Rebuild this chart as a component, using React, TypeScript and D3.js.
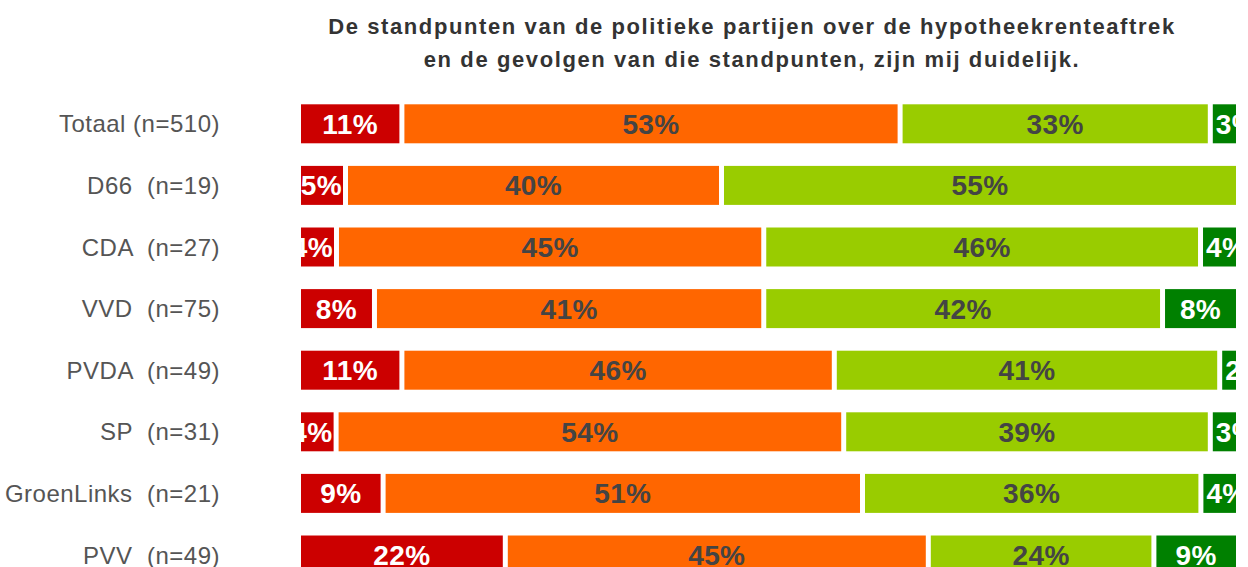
import React from "react";
import * as d3 from "d3";

const categories = [
  "Totaal (n=510)",
  "D66  (n=19)",
  "CDA  (n=27)",
  "VVD  (n=75)",
  "PVDA  (n=49)",
  "SP  (n=31)",
  "GroenLinks  (n=21)",
  "PVV  (n=49)",
];
const helemaalOneens = [11, 5, 4, 8, 11, 4, 9, 22];
const oneens = [53, 40, 45, 41, 46, 54, 51, 45];
const eens = [33, 55, 46, 42, 41, 39, 36, 24];
const helemaalEens = [3, 0, 4, 8, 2, 3, 4, 9];
const seriesColors = ["#cc0000", "#ff6600", "#99cc00", "#008000"];
const labelColors = ["#ffffff", "#444444", "#444444", "#ffffff"];
const titleLines = [
  "De standpunten van de politieke partijen over de hypotheekrenteaftrek",
  "en de gevolgen van die standpunten, zijn mij duidelijk.",
];

const W = 1248, H = 567;
const margin = { left: 301, right: 7, top: 93 };
const gap = 5;
const labelSize = 28;

// rough width of a bold label like "53%"
const labelWidth = (s: string) =>
  d3.sum(s.split(""), ch => (ch === "%" ? 0.889 : 0.556)) * labelSize;

export default function App() {
  const series = [helemaalOneens, oneens, eens, helemaalEens];
  const x = d3.scaleLinear().domain([0, 100]).range([margin.left, W - margin.right]);
  const y = d3.scaleBand<string>()
    .domain(categories)
    .range([margin.top, margin.top + 61.6 * categories.length])
    .paddingInner(0.367)
    .paddingOuter(0.1835);

  const rows = categories.map((c, i) => {
    const vals = series.map(s => s[i]);
    const total = d3.sum(vals);
    let acc = 0;
    return vals.map((v, k) => {
      const start = (acc / total) * 100;
      acc += v;
      const end = (acc / total) * 100;
      return { c, i, k, v, start, end };
    });
  });
  const segs = rows.flat().filter(d => d.v > 0);

  return (
    <svg width={W} height={H} style={{ position: "absolute", left: 0, top: 0, background: "#fff" }}
      fontFamily="Arial, 'Liberation Sans', sans-serif">
      {titleLines.map((t, i) => (
        <text key={i} x={752} y={34 + i * 32.5} textAnchor="middle" fontSize={22}
          fontWeight="bold" fill="#333" letterSpacing={1.6}>{t}</text>
      ))}
      {categories.map(c => (
        <text key={c} x={220} y={(y(c) as number) + y.bandwidth() / 2} dy="0.36em"
          textAnchor="end" fontSize={24} fill="#555" letterSpacing={0.5}
          style={{ whiteSpace: "pre" }}>{c}</text>
      ))}
      <defs>
        {segs.map(d => (
          <clipPath key={`cp${d.i}-${d.k}`} id={`cp${d.i}-${d.k}`}>
            <rect x={x(d.start)} y={y(d.c)} width={Math.max(0, x(d.end) - x(d.start) - gap)}
              height={y.bandwidth()} />
          </clipPath>
        ))}
      </defs>
      {segs.map(d => {
        const x0 = x(d.start);
        const w = x(d.end) - x0 - gap;
        const y0 = y(d.c) as number;
        const label = d.v + "%";
        const fits = labelWidth(label) + 2 <= w;
        let tx = x0 + w / 2, anchor = "middle";
        if (!fits && d.k === 0) { tx = x0 + w - 1; anchor = "end"; }
        else if (!fits) { tx = x0 + 3; anchor = "start"; }
        return (
          <g key={`s${d.i}-${d.k}`}>
            <rect x={x0} y={y0} width={w} height={y.bandwidth()} fill={seriesColors[d.k]} />
            <text x={tx} y={y0 + y.bandwidth() / 2} dy="0.36em" textAnchor={anchor}
              fontSize={labelSize} fontWeight="bold" fill={labelColors[d.k]}
              letterSpacing={0.4} clipPath={`url(#cp${d.i}-${d.k})`}>
              {label}
            </text>
          </g>
        );
      })}
    </svg>
  );
}
